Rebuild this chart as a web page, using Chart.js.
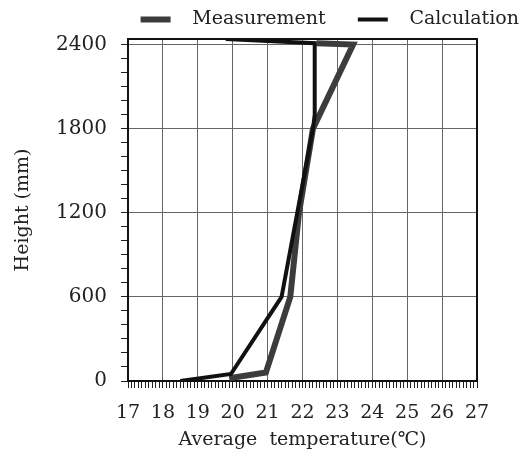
<!DOCTYPE html>
<html>
<head>
<meta charset="utf-8">
<script src="https://cdn.jsdelivr.net/npm/chart.js@4/dist/chart.umd.min.js"></script>
<style>
  html, body { margin: 0; padding: 0; background: #fff; }
  #wrap { width: 527px; height: 467px; }
</style>
</head>
<body>
<div id="wrap"><canvas id="chart"></canvas></div>
<script>
// Measured temperature profile (thick grey line)
const measTemp   = [19.9, 20.95, 21.65, 21.9, 22.3, 23.45, 22.4];
const measHeight = [20, 60, 600, 1200, 1800, 2400, 2410];

// Calculated temperature profile (thin black line)
const calcTemp   = [18.5, 19.95, 21.4, 21.85, 22.3, 22.35, 22.35, 19.8];
const calcHeight = [0, 50, 600, 1200, 1800, 1900, 2410, 2440];

// Labelled ticks on each axis
const xLabels = [17, 18, 19, 20, 21, 22, 23, 24, 25, 26, 27];
const yLabels = [0, 600, 1200, 1800, 2400];

// Turn two arrays into {x, y} points
function toPoints(xs, ys) {
    return xs.map((x, i) => ({ x: x, y: ys[i] }));
}

function isMajorX(v) {
    return xLabels.includes(Math.round(v * 10) / 10);
}
function isMajorY(v) {
    return yLabels.includes(Math.round(v));
}

// Closes the plot box on top and right
const framePlugin = {
    id: 'frame',
    beforeDatasetsDraw(chart) {
        const { ctx, chartArea: a } = chart;
        ctx.save();
        ctx.strokeStyle = '#111';
        ctx.lineWidth = 2;
        ctx.strokeRect(a.left, a.top, a.width, a.height);
        ctx.restore();
    }
};

Chart.defaults.font.family = "'DejaVu Serif', serif";
Chart.defaults.color = '#222';

new Chart(document.getElementById('chart'), {
    type: 'scatter',
    data: {
        datasets: [{
            label: '  Measurement    ',
            data: toPoints(measTemp, measHeight),
            showLine: true,
            borderColor: '#3c3c3c',
            backgroundColor: '#3c3c3c',
            borderWidth: 6,
            pointRadius: 0,
            order: 2
        }, {
            label: '  Calculation',
            data: toPoints(calcTemp, calcHeight),
            showLine: true,
            borderColor: '#111',
            backgroundColor: '#111',
            borderWidth: 4,
            pointRadius: 0,
            order: 1
        }]
    },
    options: {
        responsive: true,
        maintainAspectRatio: false,
        animation: false,
        layout: { padding: { top: 2, left: 0, right: 0, bottom: 0 } },
        scales: {
            x: {
                type: 'linear',
                min: 17,
                max: 27,
                ticks: {
                    stepSize: 0.1,
                    autoSkip: false,
                    maxRotation: 0,
                    padding: 14,
                    font: { size: 19 },
                    callback: v => isMajorX(v) ? String(Math.round(v)) : ''
                },
                grid: {
                    color: c => (c.tick && isMajorX(c.tick.value)) ? '#666' : 'rgba(0,0,0,0)',
                    tickColor: '#222',
                    tickLength: 7,
                    lineWidth: 1
                },
                border: { color: '#111', width: 2 },
                title: {
                    display: true,
                    text: 'Average  temperature(℃)',
                    font: { size: 19 },
                    padding: { top: 0, bottom: 16 }
                },
                afterFit(scale) { scale.height = 86; }
            },
            y: {
                min: 0,
                max: 2440,
                ticks: {
                    stepSize: 100,
                    includeBounds: false,
                    autoSkip: false,
                    padding: 14,
                    font: { size: 20 },
                    callback: v => isMajorY(v) ? String(Math.round(v)) : ''
                },
                grid: {
                    color: c => (c.tick && isMajorY(c.tick.value)) ? '#666' : 'rgba(0,0,0,0)',
                    tickColor: '#222',
                    tickLength: 7,
                    lineWidth: 1
                },
                border: { color: '#111', width: 2 },
                title: {
                    display: true,
                    text: 'Height (mm)',
                    font: { size: 19 },
                    padding: { top: 12, bottom: 0 }
                },
                afterFit(scale) { scale.width = 128; }
            },
            // empty axis that only keeps space on the right
            yRight: {
                position: 'right',
                display: true,
                grid: { display: false },
                border: { display: false },
                ticks: { display: false },
                afterFit(scale) { scale.width = 50; }
            }
        },
        plugins: {
            legend: {
                position: 'top',
                align: 'end',
                labels: {
                    usePointStyle: true,
                    pointStyle: 'line',
                    pointStyleWidth: 30,
                    padding: 8,
                    color: '#222',
                    font: { size: 19 },
                    sort: (a, b) => a.datasetIndex - b.datasetIndex
                }
            },
            tooltip: { enabled: false }
        }
    },
    plugins: [framePlugin]
});
</script>
</body>
</html>
